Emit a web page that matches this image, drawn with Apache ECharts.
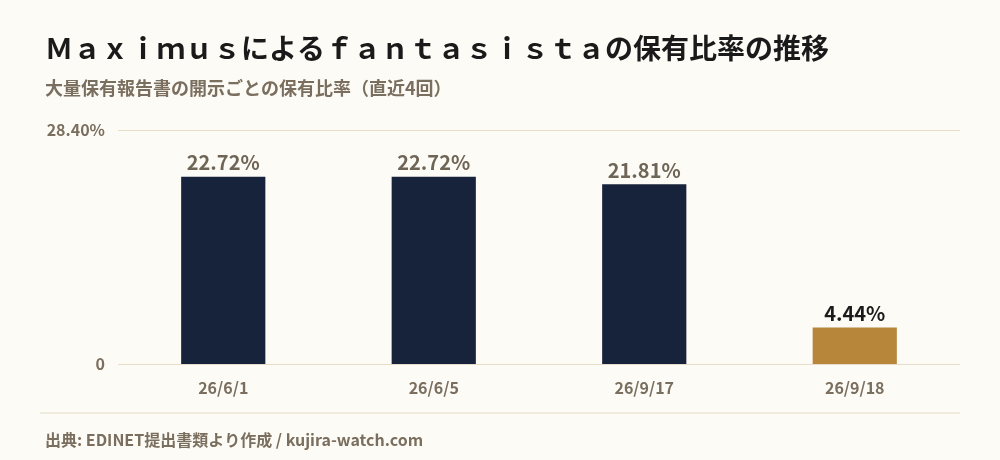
<!DOCTYPE html>
<html>
<head>
<meta charset="UTF-8">
<title>保有比率の推移</title>
<style>
  html, body { margin: 0; padding: 0; background: #fdfbf6; }
  #chart { width: 1000px; height: 460px; }
</style>
</head>
<body>
<div id="chart"></div>
<script src="https://cdn.jsdelivr.net/npm/echarts@6/dist/echarts.min.js"></script>
<script>
var dates = ['26/6/1', '26/6/5', '26/9/17', '26/9/18'];
var ratios = [22.72, 22.72, 21.81, 4.44];
var axisMax = 28.40;

var font = '"Noto Sans CJK JP", "Noto Sans", sans-serif';
var muted = '#7a6e5e';
var lineColor = '#e6dcc8';

var chart = echarts.init(document.getElementById('chart'));

// 最後の報告だけ色を変える
var barData = ratios.map(function (v, i) {
  var last = i === ratios.length - 1;
  return {
    value: v,
    itemStyle: { color: last ? '#b8863b' : '#17223b' },
    label: { color: last ? '#1a1a1a' : '#6e6556' }
  };
});

chart.setOption({
  backgroundColor: '#fdfbf6',
  textStyle: { fontFamily: font },
  title: [{
    text: 'Ｍａｘｉｍｕｓによるｆａｎｔａｓｉｓｔａの保有比率の推移',
    left: 40,
    top: 29,
    textStyle: { fontSize: 28, fontWeight: 'bold', color: '#1a1a1a', fontFamily: font }
  }, {
    text: '大量保有報告書の開示ごとの保有比率（直近4回）',
    left: 40,
    top: 74,
    textStyle: { fontSize: 18, fontWeight: 'bold', color: muted, fontFamily: font }
  }, {
    text: '出典: EDINET提出書類より作成 / kujira-watch.com',
    left: 40,
    top: 427,
    textStyle: { fontSize: 16, fontWeight: 'bold', color: muted, fontFamily: font }
  }],
  graphic: [{
    type: 'line',
    shape: { x1: 40, y1: 413, x2: 960, y2: 413 },
    style: { stroke: lineColor, lineWidth: 1 }
  }],
  grid: { left: 118, right: 40, top: 130, bottom: 96 },
  xAxis: {
    type: 'category',
    data: dates,
    axisLine: { show: false },
    axisTick: { show: false },
    axisLabel: { color: muted, fontSize: 16, fontWeight: 'bold', margin: 16, fontFamily: font }
  },
  yAxis: {
    type: 'value',
    min: 0,
    max: axisMax,
    interval: axisMax,
    axisLine: { show: false },
    axisTick: { show: false },
    splitLine: { lineStyle: { color: lineColor, width: 1 } },
    axisLabel: {
      color: muted, fontSize: 16, fontWeight: 'bold', margin: 13, fontFamily: font,
      formatter: function (v) { return v === 0 ? '0' : v.toFixed(2) + '%'; }
    }
  },
  series: [{
    type: 'bar',
    data: barData,
    barWidth: '40%',
    label: {
      show: true,
      position: 'top',
      distance: 4,
      fontSize: 20,
      fontWeight: 'bold',
      fontFamily: font,
      formatter: function (p) { return p.value.toFixed(2) + '%'; }
    }
  }]
});
</script>
</body>
</html>
